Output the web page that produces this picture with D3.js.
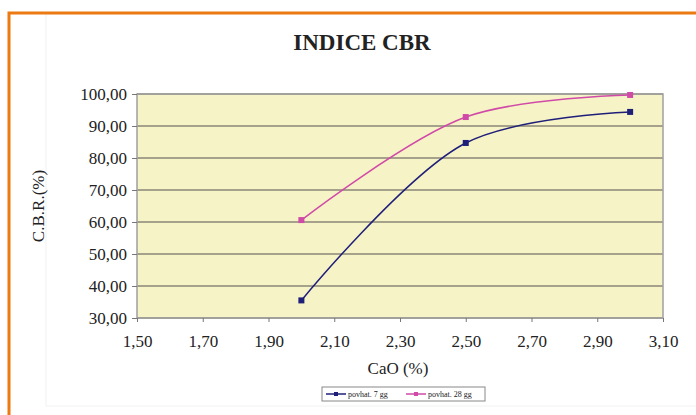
<!DOCTYPE html>
<meta charset="utf-8">
<style type="text/css">
  body { margin: 0; background: #fff; }
  svg { display: block; }
  text { font-family: "Liberation Serif", "DejaVu Serif", serif; fill: #222; }
</style>
<body>
<script src="https://cdn.jsdelivr.net/npm/d3@7"></script>
<script>
// data
var cao      = [2.00, 2.50, 3.00];
var cbr7     = [35.5, 84.7, 94.4];
var cbr28    = [60.6, 92.8, 99.7];
var xTicks   = [1.50, 1.70, 1.90, 2.10, 2.30, 2.50, 2.70, 2.90, 3.10];
var yTicks   = [30, 40, 50, 60, 70, 80, 90, 100];
var seriesNames = ["povhat. 7 gg", "povhat. 28 gg"];
var seriesColors = ["#1f1f7a", "#d04aa8"];

var W = 696, H = 415;
var margin = {top: 94, right: 33, bottom: 97, left: 137},
    width  = W - margin.left - margin.right,
    height = H - margin.top - margin.bottom;

var svg = d3.select("body").append("svg")
  .attr("width", W)
  .attr("height", H);

// faint inner frame + orange outer border
svg.append("rect")
  .attr("x", 46).attr("y", 14).attr("width", 700).attr("height", 392)
  .attr("fill", "none").attr("stroke", "#f2f2f2");
svg.append("rect")
  .attr("x", 9).attr("y", 13).attr("width", 720).attr("height", 430)
  .attr("fill", "none").attr("stroke", "#ec7a12").attr("stroke-width", 3);

var x = d3.scaleLinear().domain([1.5, 3.1]).range([0, width]);
var y = d3.scaleLinear().domain([30, 100]).range([height, 0]);

var chart = svg.append("g")
  .attr("transform", "translate(" + margin.left + "," + margin.top + ")");

chart.append("rect")
  .attr("width", width).attr("height", height)
  .attr("fill", "#f6f3c6");

// horizontal gridlines
chart.selectAll(".grid")
  .data(yTicks)
  .enter().append("line")
  .attr("x1", 0).attr("x2", width)
  .attr("y1", function(d){ return y(d); })
  .attr("y2", function(d){ return y(d); })
  .attr("stroke", "#8a8676").attr("stroke-width", 1.5);

chart.append("rect")
  .attr("width", width).attr("height", height)
  .attr("fill", "none").attr("stroke", "#a0a0a0").attr("stroke-width", 1.5);

var fmt = function(d){ return d3.format(".2f")(d).replace(".", ","); };

var yAxis = chart.append("g")
  .call(d3.axisLeft(y).tickValues(yTicks).tickSize(5).tickPadding(5).tickFormat(fmt));
var xAxis = chart.append("g")
  .attr("transform", "translate(0," + height + ")")
  .call(d3.axisBottom(x).tickValues(xTicks).tickSize(4).tickPadding(13).tickFormat(fmt));

[xAxis, yAxis].forEach(function(a){
  a.select(".domain").remove();
  a.selectAll("line").attr("stroke", "#777");
  a.selectAll("text")
    .style("font-family", "'Liberation Serif', serif")
    .style("font-size", "17px")
    .attr("fill", "#2a2a2a");
});

// lines
var line = d3.line()
  .x(function(d){ return x(d[0]); })
  .y(function(d){ return y(d[1]); })
  .curve(d3.curveCatmullRom.alpha(0.5));

[cbr7, cbr28].forEach(function(vals, i){
  var pts = cao.map(function(c, j){ return [c, vals[j]]; });
  chart.append("path")
    .datum(pts)
    .attr("d", line)
    .attr("fill", "none")
    .attr("stroke", seriesColors[i])
    .attr("stroke-width", 1.5);
  chart.selectAll(".pt" + i)
    .data(pts)
    .enter().append("rect")
    .attr("x", function(d){ return x(d[0]) - 3; })
    .attr("y", function(d){ return y(d[1]) - 3; })
    .attr("width", 6).attr("height", 6)
    .attr("fill", seriesColors[i]);
});

// title and axis labels
svg.append("text")
  .attr("x", 362).attr("y", 50)
  .attr("text-anchor", "middle")
  .style("font-size", "23px").style("font-weight", "bold")
  .attr("fill", "#111")
  .text("INDICE CBR");

svg.append("text")
  .attr("x", 398).attr("y", 374)
  .attr("text-anchor", "middle")
  .style("font-size", "17px")
  .text("CaO (%)");

svg.append("text")
  .attr("transform", "translate(44," + (margin.top + height / 2) + ") rotate(-90)")
  .attr("text-anchor", "middle")
  .style("font-size", "17px")
  .text("C.B.R.(%)");

// legend
var leg = svg.append("g").attr("transform", "translate(322,387)");
leg.append("rect")
  .attr("width", 163).attr("height", 14)
  .attr("fill", "#fff").attr("stroke", "#888");
seriesNames.forEach(function(n, i){
  var g = leg.append("g").attr("transform", "translate(" + (4 + i * 80) + ",7)");
  g.append("line").attr("x1", 0).attr("x2", 20)
    .attr("stroke", seriesColors[i]).attr("stroke-width", 1.5);
  g.append("rect").attr("x", 8).attr("y", -2).attr("width", 4).attr("height", 4)
    .attr("fill", seriesColors[i]);
  g.append("text").attr("x", 22).attr("y", 3)
    .style("font-size", "8px")
    .text(n);
});
</script>
</body>
